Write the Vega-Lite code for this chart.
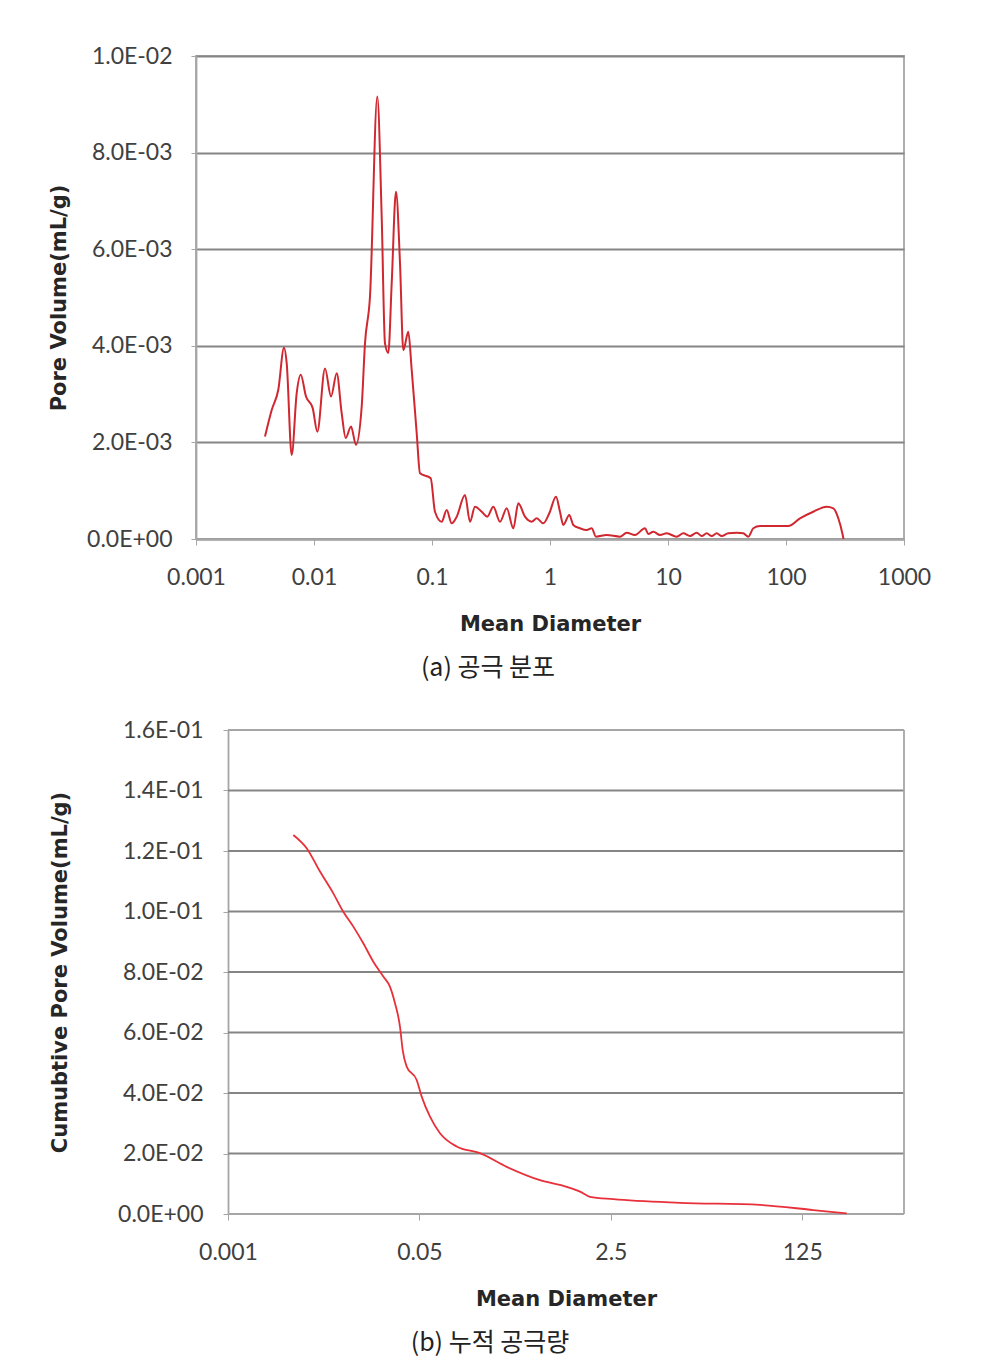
{
  "$schema": "https://vega.github.io/schema/vega-lite/v6.json",
  "background": "white",
  "padding": {"left": 47, "top": 44, "right": 10, "bottom": 10},
  "spacing": 37,
  "config": {
    "font": "Lato",
    "view": {"stroke": "#a6a6a6", "strokeWidth": 1.8},
    "axis": {
      "labelFont": "Lato",
      "labelFontSize": 23,
      "labelColor": "#404040",
      "titleFont": "DejaVu Sans",
      "titleFontSize": 21,
      "titleFontWeight": "bold",
      "titleColor": "#262626",
      "domainColor": "#a6a6a6",
      "domainWidth": 1.8,
      "tickColor": "#a6a6a6",
      "tickSize": 5,
      "gridColor": "#858585",
      "gridWidth": 1.8
    },
    "title": {"font": "Noto Sans CJK KR", "fontSize": 25, "fontWeight": "normal", "color": "#222222"}
  },
  "vconcat": [
    {
      "width": 708,
      "height": 483,
      "title": {"text": "(a) 공극 분포", "orient": "bottom", "anchor": "middle", "frame": "group", "offset": 22, "dx": -62},
      "data": {"values": [
        {"d": 0.003843, "v": 0.00212}, {"d": 0.004381, "v": 0.00267}, {"d": 0.004982, "v": 0.00309},
        {"d": 0.005568, "v": 0.00396}, {"d": 0.005869, "v": 0.00364}, {"d": 0.006471, "v": 0.00174},
        {"d": 0.007135, "v": 0.00302}, {"d": 0.007717, "v": 0.0034}, {"d": 0.008556, "v": 0.00295},
        {"d": 0.00975, "v": 0.00271}, {"d": 0.01067, "v": 0.00222}, {"d": 0.0124, "v": 0.00353},
        {"d": 0.01394, "v": 0.00295}, {"d": 0.01558, "v": 0.00343}, {"d": 0.01717, "v": 0.0026},
        {"d": 0.01856, "v": 0.00209}, {"d": 0.02059, "v": 0.00233}, {"d": 0.02269, "v": 0.00195},
        {"d": 0.02536, "v": 0.00274}, {"d": 0.02705, "v": 0.00405}, {"d": 0.02982, "v": 0.00502},
        {"d": 0.03439, "v": 0.00916}, {"d": 0.03747, "v": 0.00667}, {"d": 0.03996, "v": 0.00405},
        {"d": 0.04262, "v": 0.00385}, {"d": 0.04554, "v": 0.00529}, {"d": 0.04953, "v": 0.00719},
        {"d": 0.05356, "v": 0.00571}, {"d": 0.05713, "v": 0.00391}, {"d": 0.06298, "v": 0.00429},
        {"d": 0.0673, "v": 0.0035}, {"d": 0.0742, "v": 0.00219}, {"d": 0.07912, "v": 0.00136},
        {"d": 0.0975, "v": 0.00126}, {"d": 0.106, "v": 0.000565}, {"d": 0.1208, "v": 0.000358},
        {"d": 0.1332, "v": 0.0006}, {"d": 0.1469, "v": 0.000325}, {"d": 0.162, "v": 0.000462},
        {"d": 0.1904, "v": 0.000911}, {"d": 0.2099, "v": 0.000358}, {"d": 0.2314, "v": 0.000669},
        {"d": 0.2638, "v": 0.000565}, {"d": 0.2941, "v": 0.000462}, {"d": 0.3308, "v": 0.000669},
        {"d": 0.377, "v": 0.000358}, {"d": 0.4297, "v": 0.000636}, {"d": 0.4887, "v": 0.000222},
        {"d": 0.5387, "v": 0.000739}, {"d": 0.6139, "v": 0.000462}, {"d": 0.6998, "v": 0.000358},
        {"d": 0.7717, "v": 0.000429}, {"d": 0.8774, "v": 0.000325}, {"d": 0.9865, "v": 0.000532},
        {"d": 1.124, "v": 0.000876}, {"d": 1.215, "v": 0.000565}, {"d": 1.296, "v": 0.00029},
        {"d": 1.457, "v": 0.000497}, {"d": 1.576, "v": 0.00029}, {"d": 1.796, "v": 0.000222},
        {"d": 2.046, "v": 0.000186}, {"d": 2.256, "v": 0.000222}, {"d": 2.454, "v": 0.000048},
        {"d": 3.023, "v": 0.000083}, {"d": 3.92, "v": 0.000048}, {"d": 4.467, "v": 0.00013},
        {"d": 5.252, "v": 0.000083}, {"d": 6.385, "v": 0.000222}, {"d": 6.809, "v": 0.000104},
        {"d": 7.507, "v": 0.000151}, {"d": 8.556, "v": 0.000083}, {"d": 9.75, "v": 0.000118},
        {"d": 11.85, "v": 0.000048}, {"d": 13.48, "v": 0.000118}, {"d": 15.37, "v": 0.000062},
        {"d": 17.51, "v": 0.00013}, {"d": 19.31, "v": 0.000062}, {"d": 21.28, "v": 0.000118},
        {"d": 23.46, "v": 0.000062}, {"d": 25.86, "v": 0.000118}, {"d": 28.52, "v": 0.000062},
        {"d": 32.43, "v": 0.000118}, {"d": 38.2, "v": 0.00013}, {"d": 43.46, "v": 0.000118},
        {"d": 47.91, "v": 0.000048}, {"d": 52.84, "v": 0.000222}, {"d": 60.22, "v": 0.000269},
        {"d": 104.6, "v": 0.000269}, {"d": 131.4, "v": 0.000429}, {"d": 170.4, "v": 0.000565},
        {"d": 221.3, "v": 0.000669}, {"d": 251.7, "v": 0.000636}, {"d": 277.5, "v": 0.000429},
        {"d": 302.4, "v": 0.000083}, {"d": 307, "v": 0}
      ]},
      "mark": {"type": "line", "color": "#d02830", "strokeWidth": 2, "interpolate": "monotone"},
      "encoding": {
        "x": {
          "field": "d", "type": "quantitative",
          "scale": {"type": "log", "domain": [0.001, 1000]},
          "axis": {"title": "Mean Diameter", "values": [0.001, 0.01, 0.1, 1, 10, 100, 1000], "format": "~g", "grid": false, "tickSize": 6, "labelPadding": 21, "titlePadding": 24, "labelFlush": false}
        },
        "y": {
          "field": "v", "type": "quantitative",
          "scale": {"domain": [0, 0.01]},
          "axis": {
            "title": "Pore Volume(mL/g)",
            "values": [0, 0.002, 0.004, 0.006, 0.008, 0.01],
            "labelExpr": "datum.value == 0 ? '0.0E+00' : format(datum.value / pow(10, floor(log(datum.value)/LN10 + 1e-9)), '.1f') + 'E' + (floor(log(datum.value)/LN10 + 1e-9) < 0 ? '-' : '+') + (abs(floor(log(datum.value)/LN10 + 1e-9)) < 10 ? '0' : '') + abs(floor(log(datum.value)/LN10 + 1e-9))",
            "labelPadding": 19,
            "titlePadding": 17
          }
        }
      }
    },
    {
      "width": 708,
      "height": 484,
      "view": {"stroke": null},
      "title": {"text": "(b) 누적 공극량", "orient": "bottom", "anchor": "middle", "frame": "group", "offset": 22, "dx": -60},
      "layer": [
        {
          "data": {"values": [{"g": 0.02}, {"g": 0.04}, {"g": 0.06}, {"g": 0.08}, {"g": 0.1}, {"g": 0.12}, {"g": 0.14}]},
          "mark": {"type": "rule", "color": "#858585", "strokeWidth": 1.8},
          "encoding": {
            "y": {
              "field": "g", "type": "quantitative",
              "scale": {"domain": [0, 0.16]},
              "axis": {
                "title": "Cumubtive Pore Volume(mL/g)",
                "values": [0, 0.02, 0.04, 0.06, 0.08, 0.1, 0.12, 0.14, 0.16],
                "labelExpr": "datum.value == 0 ? '0.0E+00' : format(datum.value / pow(10, floor(log(datum.value)/LN10 + 1e-9)), '.1f') + 'E' + (floor(log(datum.value)/LN10 + 1e-9) < 0 ? '-' : '+') + (abs(floor(log(datum.value)/LN10 + 1e-9)) < 10 ? '0' : '') + abs(floor(log(datum.value)/LN10 + 1e-9))",
                "labelPadding": 20,
                "titlePadding": 47,
                "offset": -32,
                "grid": false
              }
            },
            "x": {
              "datum": 0.001, "type": "quantitative",
              "scale": {"type": "log", "domain": [0.00052, 1000]},
              "axis": {"title": "Mean Diameter", "values": [0.001, 0.05, 2.5, 125], "format": "~g", "grid": false, "domain": false, "tickSize": 6, "labelPadding": 21, "titlePadding": 24, "labelFlush": false, "titleX": 370}
            },
            "x2": {"datum": 1000}
          }
        },
        {
          "data": {"values": [{"g": 0}, {"g": 0.16}]},
          "mark": {"type": "rule", "color": "#a6a6a6", "strokeWidth": 1.8},
          "encoding": {
            "y": {
              "field": "g", "type": "quantitative",
              "scale": {"domain": [0, 0.16]},
              "axis": {
                "title": "Cumubtive Pore Volume(mL/g)",
                "values": [0, 0.02, 0.04, 0.06, 0.08, 0.1, 0.12, 0.14, 0.16],
                "labelExpr": "datum.value == 0 ? '0.0E+00' : format(datum.value / pow(10, floor(log(datum.value)/LN10 + 1e-9)), '.1f') + 'E' + (floor(log(datum.value)/LN10 + 1e-9) < 0 ? '-' : '+') + (abs(floor(log(datum.value)/LN10 + 1e-9)) < 10 ? '0' : '') + abs(floor(log(datum.value)/LN10 + 1e-9))",
                "labelPadding": 20,
                "titlePadding": 47,
                "offset": -32,
                "grid": false
              }
            },
            "x": {
              "datum": 0.001, "type": "quantitative",
              "scale": {"type": "log", "domain": [0.00052, 1000]},
              "axis": {"title": "Mean Diameter", "values": [0.001, 0.05, 2.5, 125], "format": "~g", "grid": false, "domain": false, "tickSize": 6, "labelPadding": 21, "titlePadding": 24, "labelFlush": false, "titleX": 370}
            },
            "x2": {"datum": 1000}
          }
        },
        {
          "data": {"values": [{"g": 0}]},
          "mark": {"type": "rule", "color": "#a6a6a6", "strokeWidth": 1.8},
          "encoding": {
            "x": {
              "datum": 1000, "type": "quantitative",
              "scale": {"type": "log", "domain": [0.00052, 1000]},
              "axis": {"title": "Mean Diameter", "values": [0.001, 0.05, 2.5, 125], "format": "~g", "grid": false, "domain": false, "tickSize": 6, "labelPadding": 21, "titlePadding": 24, "labelFlush": false, "titleX": 370}
            },
            "y": {
              "datum": 0, "type": "quantitative",
              "scale": {"domain": [0, 0.16]},
              "axis": {
                "title": "Cumubtive Pore Volume(mL/g)",
                "values": [0, 0.02, 0.04, 0.06, 0.08, 0.1, 0.12, 0.14, 0.16],
                "labelExpr": "datum.value == 0 ? '0.0E+00' : format(datum.value / pow(10, floor(log(datum.value)/LN10 + 1e-9)), '.1f') + 'E' + (floor(log(datum.value)/LN10 + 1e-9) < 0 ? '-' : '+') + (abs(floor(log(datum.value)/LN10 + 1e-9)) < 10 ? '0' : '') + abs(floor(log(datum.value)/LN10 + 1e-9))",
                "labelPadding": 20,
                "titlePadding": 47,
                "offset": -32,
                "grid": false
              }
            },
            "y2": {"datum": 0.16}
          }
        },
        {
          "data": {"values": [
            {"d": 0.003799, "v": 0.1253}, {"d": 0.004993, "v": 0.1209}, {"d": 0.006554, "v": 0.1132},
            {"d": 0.008604, "v": 0.106}, {"d": 0.01055, "v": 0.0999}, {"d": 0.01295, "v": 0.095},
            {"d": 0.01588, "v": 0.0895}, {"d": 0.01949, "v": 0.0834}, {"d": 0.0239, "v": 0.0785},
            {"d": 0.02741, "v": 0.0751}, {"d": 0.03035, "v": 0.0697}, {"d": 0.03362, "v": 0.0619},
            {"d": 0.03552, "v": 0.0542}, {"d": 0.03855, "v": 0.0487}, {"d": 0.04727, "v": 0.0443},
            {"d": 0.05238, "v": 0.0388}, {"d": 0.06207, "v": 0.0322}, {"d": 0.07614, "v": 0.0267},
            {"d": 0.1071, "v": 0.0223}, {"d": 0.1724, "v": 0.0201}, {"d": 0.2976, "v": 0.0156},
            {"d": 0.5875, "v": 0.0112}, {"d": 1.014, "v": 0.009}, {"d": 1.331, "v": 0.0074},
            {"d": 1.633, "v": 0.0057}, {"d": 2.628, "v": 0.0049}, {"d": 10.27, "v": 0.0037},
            {"d": 52.7, "v": 0.003}, {"d": 156.6, "v": 0.0013}, {"d": 309.9, "v": 0.0002}
          ]},
          "mark": {"type": "line", "color": "#e8303a", "strokeWidth": 1.8, "interpolate": "monotone"},
          "encoding": {
            "x": {
              "field": "d", "type": "quantitative",
              "scale": {"type": "log", "domain": [0.00052, 1000]},
              "axis": {"title": "Mean Diameter", "values": [0.001, 0.05, 2.5, 125], "format": "~g", "grid": false, "domain": false, "tickSize": 6, "labelPadding": 21, "titlePadding": 24, "labelFlush": false, "titleX": 370}
            },
            "y": {
              "field": "v", "type": "quantitative",
              "scale": {"domain": [0, 0.16]},
              "axis": {
                "title": "Cumubtive Pore Volume(mL/g)",
                "values": [0, 0.02, 0.04, 0.06, 0.08, 0.1, 0.12, 0.14, 0.16],
                "labelExpr": "datum.value == 0 ? '0.0E+00' : format(datum.value / pow(10, floor(log(datum.value)/LN10 + 1e-9)), '.1f') + 'E' + (floor(log(datum.value)/LN10 + 1e-9) < 0 ? '-' : '+') + (abs(floor(log(datum.value)/LN10 + 1e-9)) < 10 ? '0' : '') + abs(floor(log(datum.value)/LN10 + 1e-9))",
                "labelPadding": 20,
                "titlePadding": 47,
                "offset": -32,
                "grid": false
              }
            }
          }
        }
      ]
    }
  ]
}
